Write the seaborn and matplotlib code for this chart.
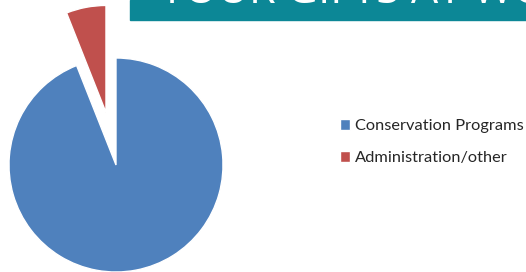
import matplotlib
matplotlib.use("Agg")
import matplotlib.pyplot as plt
from matplotlib.patches import Rectangle
import seaborn as sns

# data
labels = ["Conservation Programs", "Administration/other"]
shares = [94, 6]
explode = [0, 0.5]
banner_title = "YOUR GIFTS AT WORK"

sns.set_theme(style="white")
plt.rcParams["font.family"] = ["Lato", "DejaVu Sans"]
colors = sns.color_palette(["#4F81BD", "#C0504D"])

W, H = 526, 272
fig = plt.figure(figsize=(W / 100, H / 100), dpi=100)

# axes over the whole figure, one data unit = pie radius (107 px)
r_px = 107
cx, cy = 116, 165
ax = fig.add_axes([0, 0, 1, 1])
wedges, _ = ax.pie(shares, colors=colors, explode=explode, startangle=90,
                   counterclock=False, radius=1)
ax.set_xlim(-cx / r_px, (W - cx) / r_px)
ax.set_ylim(-(H - cy) / r_px, cy / r_px)
ax.set_aspect("auto")
ax.axis("off")

# teal banner at top, its title cut by the image edge
fig.patches.append(Rectangle((130 / W, 1 - 20 / H), 1, 20 / H,
                             transform=fig.transFigure, color="#0C8796", zorder=0))
fig.text(160 / W, 1 - 3 / H, banner_title, color="white", fontsize=31,
         va="baseline", ha="left", family=["Open Sans", "DejaVu Sans"])

leg = ax.legend(wedges, labels, loc="upper left", bbox_to_anchor=(325 / W, 1 - 104 / H),
                bbox_transform=fig.transFigure, frameon=False, fontsize=11.8,
                handlelength=0.65, handleheight=0.65, handletextpad=0.3,
                labelspacing=1.1)

fig.savefig("out.png", dpi=100)
